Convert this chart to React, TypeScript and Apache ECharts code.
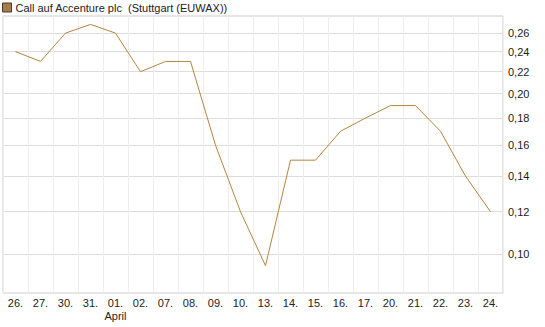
import React, { useEffect, useRef } from "react";
import * as echarts from "echarts";

const seriesName = "Call auf Accenture plc  (Stuttgart (EUWAX))";
const categories = ["26.", "27.", "30.", "31.", "01.", "02.", "07.", "08.", "09.", "10.", "13.", "14.", "15.", "16.", "17.", "20.", "21.", "22.", "23.", "24."];
const monthLabels: Record<number, string> = { 4: "April" };
const values = [0.24, 0.23, 0.26, 0.27, 0.26, 0.22, 0.23, 0.23, 0.16, 0.12, 0.095, 0.15, 0.15, 0.17, 0.18, 0.19, 0.19, 0.17, 0.14, 0.12];
const yTicks = [0.1, 0.12, 0.14, 0.16, 0.18, 0.2, 0.22, 0.24, 0.26];
const yMin = 0.0844;
const yMax = 0.28;

export default function App() {
  const ref = useRef<HTMLDivElement>(null);
  useEffect(() => {
    if (!ref.current) return;
    const chart = echarts.init(ref.current, null, { renderer: "svg" });
    const font = "'Liberation Sans', Arial, sans-serif";
    chart.setOption({
      animation: false,
      textStyle: { fontFamily: font },
      legend: {
        show: true,
        left: 2,
        top: 2,
        padding: 0,
        icon: "rect",
        itemWidth: 9,
        itemHeight: 9,
        itemGap: 4,
        itemStyle: { color: "#a87c48", borderColor: "#4a3a2a", borderWidth: 1 },
        textStyle: { fontSize: 11, color: "#222", fontFamily: font, padding: [0, 0, 0, -1] },
        data: [seriesName],
      },
      grid: {
        show: true,
        left: 3,
        top: 16,
        width: 500,
        height: 277,
        borderColor: "#cccccc",
        borderWidth: 1,
        backgroundColor: "transparent",
        containLabel: false,
      },
      xAxis: {
        type: "category",
        data: categories,
        boundaryGap: true,
        axisLine: { show: false },
        axisTick: { show: false, alignWithLabel: true },
        splitLine: { show: true, interval: 0, lineStyle: { color: "#eeeeee", width: 1 } },
        axisLabel: {
          interval: 0,
          margin: 3,
          fontSize: 11,
          color: "#222",
          fontFamily: font,
          lineHeight: 13,
          formatter: (v: string, i: number) => (monthLabels[i] ? v + "\n" + monthLabels[i] : v),
        },
      },
      yAxis: {
        type: "log",
        position: "right",
        min: yMin,
        max: yMax,
        axisLine: { show: false },
        axisTick: { show: false, customValues: yTicks },
        splitLine: { show: true, lineStyle: { color: "#dddddd", width: 1 } },
        axisLabel: {
          customValues: yTicks,
          margin: 5,
          fontSize: 11,
          color: "#222",
          fontFamily: font,
          formatter: (v: number) => v.toFixed(2).replace(".", ","),
        },
      },
      series: [
        {
          name: seriesName,
          type: "line",
          data: values,
          symbol: "none",
          lineStyle: { color: "#b5843f", width: 1 },
          itemStyle: { color: "#a87c48" },
        },
      ],
    });
    return () => chart.dispose();
  }, []);
  return <div ref={ref} style={{ position: "absolute", left: 0, top: 0, width: 545, height: 327 }} />;
}
